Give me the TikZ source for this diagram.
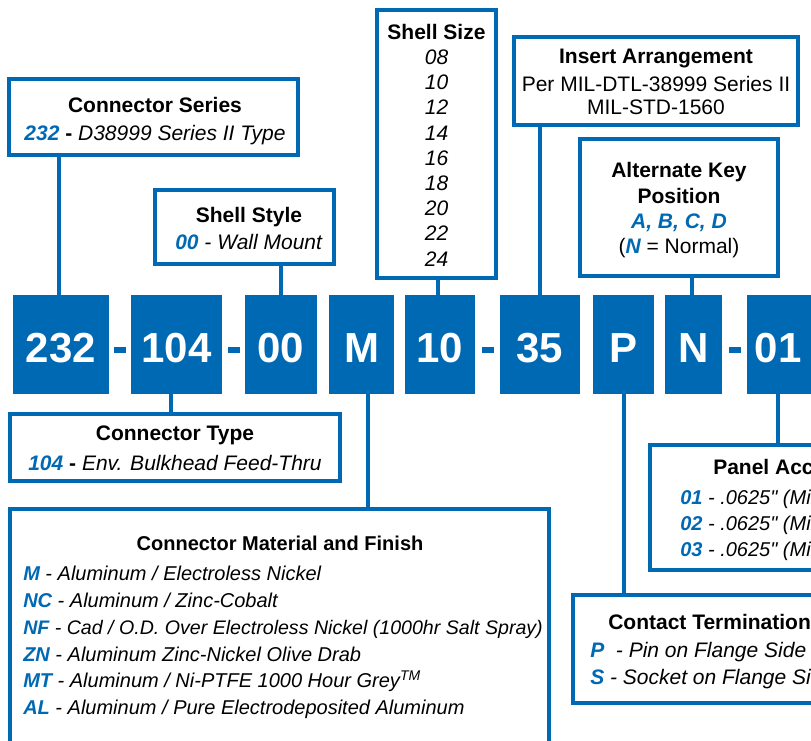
\documentclass[tikz,border=0pt]{standalone}
\usepackage{fontspec}
\setmainfont{Liberation Sans}[Ligatures=TeXOff]
\usetikzlibrary{fit}
\definecolor{cblue}{HTML}{0069B4}
\newcommand{\cd}[1]{\textcolor{cblue}{\bfseries\itshape #1}}
\tikzset{
  box/.style={draw=cblue, line width=3pt, fill=white, inner sep=0pt},
  codebox/.style={fill=cblue, draw=none, inner sep=0pt},
  codetxt/.style={anchor=base, inner sep=0pt, text=white, font=\bfseries\fontsize{31.5}{36}\selectfont},
  conn/.style={draw=cblue, line width=3.2pt},
  dashbox/.style={fill=cblue, draw=none, minimum width=9pt, minimum height=4.5pt, inner sep=0pt},
  txt/.style={anchor=base, inner sep=0pt, font=\fontsize{15.75}{18}\selectfont},
  ttl/.style={anchor=base, inner sep=0pt, font=\bfseries\fontsize{15.75}{18}\selectfont},
  ltxt/.style={anchor=base west, inner sep=0pt, font=\fontsize{15}{18}\selectfont},
  lttl/.style={anchor=base west, inner sep=0pt, font=\bfseries\fontsize{15.75}{18}\selectfont},
  mtxt/.style={anchor=base west, inner sep=0pt, font=\fontsize{15}{18}\selectfont},
}
\begin{document}
\begin{tikzpicture}[x=0.75pt,y=-0.75pt]
\useasboundingbox (0,0) rectangle (811,740);
\clip (0,0) rectangle (811,740);
\fill[white] (0,0) rectangle (811,740);

% ---- code boxes ----
\node[codebox, fit={(13,295)(109,394)}] (b232) {};
\node[codetxt] (t232) at (61,362) {232};
\node[codebox, fit={(131,295)(222,394)}] (b104) {};
\node[codetxt] (t104) at (176.5,362) {104};
\node[codebox, fit={(245,295)(317,394)}] (b00) {};
\node[codetxt] (t00) at (281,362) {00};
\node[codebox, fit={(329,295)(394,394)}] (bM) {};
\node[codetxt] (tM) at (361.5,362) {M};
\node[codebox, fit={(405,295)(475,394)}] (b10) {};
\node[codetxt] (t10) at (440,362) {10};
\node[codebox, fit={(500,295)(580,394)}] (b35) {};
\node[codetxt] (t35) at (540,362) {35};
\node[codebox, fit={(593,295)(654,394)}] (bP) {};
\node[codetxt] (tP) at (623.5,362) {P};
\node[codebox, fit={(665,295)(722,394)}] (bN) {};
\node[codetxt] (tN) at (693.5,362) {N};
\node[codebox, fit={(747,295)(840,394)}] (b01) {};
\node[codetxt] (t01) at (778,362) {01};

\node[dashbox] (d1) at (120,350) {};
\node[dashbox] (d2) at (233.5,350) {};
\node[dashbox] (d3) at (487.5,350) {};
\node[dashbox] (d4) at (734.5,350) {};

% ---- Connector Series ----
\node[box, fit={(9,79)(298,155)}] (cs) {};
\node[ttl] (csT) at (155,112) {Connector Series};
\node[txt] (csL) at (155,140) {\cd{232} \textbf{-} \textit{D38999 Series II Type}};

% ---- Shell Style ----
\node[box, fit={(155,190)(334,264)}] (ss) {};
\node[ttl] (ssT) at (249,222) {Shell Style};
\node[txt] (ssL) at (249,249) {\cd{00} \textit{- Wall Mount}};

% ---- Shell Size ----
\node[box, fit={(377,10)(496,278)}] (sz) {};
\node[ttl] (szT) at (436.5,39.5) {Shell Size};
\foreach \v [count=\i from 0] in {08,10,12,14,16,18,20,22,24}
  \node[txt] (sz\i) at (436.5,{64.5+25.2*\i}) {\itshape \v};

% ---- Insert Arrangement ----
\node[box, fit={(514,37)(798,125)}] (ia) {};
\node[ttl] (iaT) at (656,63) {Insert Arrangement};
\node[txt] (iaL1) at (656,91) {Per MIL-DTL-38999 Series II};
\node[txt] (iaL2) at (656,114) {MIL-STD-1560};

% ---- Alternate Key Position ----
\node[box, fit={(580,139)(778,276)}] (ak) {};
\node[ttl] (akT1) at (679,177) {Alternate Key};
\node[ttl] (akT2) at (679,203) {Position};
\node[txt] (akL1) at (679,228) {\cd{A, B, C, D}};
\node[txt] (akL2) at (679,253) {(\cd{N} = Normal)};

% ---- Connector Type ----
\node[box, fit={(10,414)(340,481)}] (ct) {};
\node[ttl] (ctT) at (175,440) {Connector Type};
\node[txt] (ctL) at (175,470) {\cd{104} \textbf{-} \textit{Env. Bulkhead Feed-Thru}};

% ---- Connector Material and Finish ----
\node[box, fit={(10,509)(549,780)}] (mf) {};
\node[anchor=base, inner sep=0pt, font=\bfseries\fontsize{15}{18}\selectfont] (mfT) at (280,550) {Connector Material and Finish};
\node[mtxt] (mf1) at (23,580) {\cd{M} \textit{- Aluminum / Electroless Nickel}};
\node[mtxt] (mf2) at (23,607) {\cd{NC} \textit{- Aluminum / Zinc-Cobalt}};
\node[mtxt, font=\fontsize{14.7}{18}\selectfont] (mf3) at (23,634) {\cd{NF} \textit{- Cad / O.D. Over Electroless Nickel (1000hr Salt Spray)}};
\node[mtxt] (mf4) at (23,661) {\cd{ZN} \textit{- Aluminum Zinc-Nickel Olive Drab}};
\node[mtxt] (mf5) at (23,687) {\cd{MT} \textit{- Aluminum / Ni-PTFE 1000 Hour Grey\textsuperscript{TM}}};
\node[mtxt] (mf6) at (23,714) {\cd{AL} \textit{- Aluminum / Pure Electrodeposited Aluminum}};

% ---- Panel Accommodation ----
\node[box, fit={(650,445)(880,570)}] (pa) {};
\node[lttl] (paT) at (713,474) {Panel Accommodation};
\node[ltxt] (pa1) at (680,504) {\cd{01} \textit{- .0625" (Min}};
\node[ltxt] (pa2) at (680,530) {\cd{02} \textit{- .0625" (Min}};
\node[ltxt] (pa3) at (680,556) {\cd{03} \textit{- .0625" (Min}};

% ---- Contact Termination ----
\node[box, fit={(573,595)(880,703)}] (tc) {};
\node[lttl] (tcT) at (608,629) {Contact Termination};
\node[ltxt, font=\fontsize{15.75}{18}\selectfont] (tc1) at (590,657) {\cd{P}\ \ \textit{- Pin on Flange Side}};
\node[ltxt, font=\fontsize{15.75}{18}\selectfont] (tc2) at (590,684) {\cd{S} \textit{- Socket on Flange Side}};

% ---- connectors ----
\coordinate (k232) at (59,0);
\coordinate (k00) at (281,0);
\coordinate (k104) at (171,0);
\coordinate (kM) at (368,0);
\coordinate (k10) at (438,0);
\coordinate (k35) at (540,0);
\coordinate (kP) at (624,0);
\coordinate (kN) at (692,0);
\coordinate (k01) at (778,0);
\draw[conn] (cs.south -| k232) -- (b232.north -| k232);
\draw[conn] (ss.south -| k00) -- (b00.north -| k00);
\draw[conn] (sz.south -| k10) -- (b10.north -| k10);
\draw[conn] (ia.south -| k35) -- (b35.north -| k35);
\draw[conn] (ak.south -| kN) -- (bN.north -| kN);
\draw[conn] (b104.south -| k104) -- (ct.north -| k104);
\draw[conn] (bM.south -| kM) -- (mf.north -| kM);
\draw[conn] (bP.south -| kP) -- (tc.north -| kP);
\draw[conn] (b01.south -| k01) -- (pa.north -| k01);
\end{tikzpicture}
\end{document}
